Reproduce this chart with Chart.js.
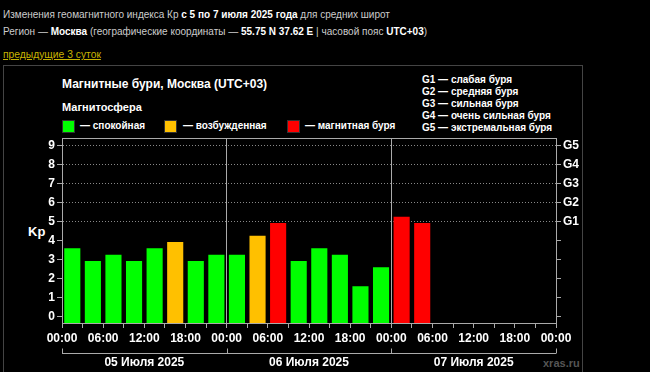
<!DOCTYPE html>
<html lang="ru">
<head>
<meta charset="utf-8">
<script src="https://cdn.jsdelivr.net/npm/chart.js@4"></script>
<style>
  body { margin: 0; background: #000; width: 650px; height: 372px; overflow: hidden; position: relative;
         font-family: "Liberation Sans", Arial, sans-serif; color: #fff; }
  .hdr { position: absolute; left: 3px; font-size: 10px; color: #ccc; white-space: nowrap; line-height: 14px; }
  .hdr b { color: #fff; }
  .link { position: absolute; left: 3px; top: 48px; font-size: 10.3px; line-height: 14px; color: #c8b400; text-decoration: underline; }
  .box { position: absolute; left: 3px; top: 65px; width: 578px; height: 330px; border: 1px solid #444; }
  .t { position: absolute; font-weight: bold; white-space: nowrap; line-height: 14px; }
  .sq { position: absolute; width: 11px; height: 11px; border: 1px solid #333; }
  #wrap { position: absolute; left: 0; top: 0; width: 650px; height: 372px; }
</style>
</head>
<body>
<div class="hdr" style="top:8px">Изменения геомагнитного индекса Кр <b>с 5 по 7 июля 2025 года</b> для средних широт</div>
<div class="hdr" style="top:25px">Регион — <b>Москва</b> (географические координаты — <b>55.75 N 37.62 E</b> | часовой пояс <b>UTC+03</b>)</div>
<div class="link">предыдущие 3 суток</div>
<div class="box"></div>

<div class="t" style="left:62px;top:77px;font-size:12px">Магнитные бури, Москва (UTC+03)</div>
<div class="t" style="left:62px;top:100px;font-size:11px">Магнитосфера</div>
<div class="sq" style="left:62px;top:120px;background:#00ff00"></div>
<div class="t" style="left:80px;top:119px;font-size:10px">— спокойная</div>
<div class="sq" style="left:164px;top:120px;background:#ffc000"></div>
<div class="t" style="left:183px;top:119px;font-size:10px">— возбужденная</div>
<div class="sq" style="left:287px;top:120px;background:#ff0000"></div>
<div class="t" style="left:305px;top:119px;font-size:10px">— магнитная буря</div>

<div class="t" style="left:422px;top:74px;font-size:10px;line-height:12.1px">
G1 — слабая буря<br>G2 — средняя буря<br>G3 — сильная буря<br>G4 — очень сильная буря<br>G5 — экстремальная буря
</div>
<div class="t" style="left:28px;top:225px;font-size:13px">Kp</div>
<div class="t" style="left:543px;top:356px;font-size:11px;color:#555">xras.ru</div>

<div id="wrap"><canvas id="kpChart"></canvas></div>

<script>
// Kp по 3-часовым интервалам, начиная с 05.07 00:00
const kp = [3.67, 3, 3.33, 3, 3.67, 4, 3, 3.33,
            3.33, 4.33, 5, 3, 3.67, 3.33, 1.67, 2.67,
            5.33, 5];
const days = ["05 Июля 2025", "06 Июля 2025", "07 Июля 2025"];
const gLevels = ["G1", "G2", "G3", "G4", "G5"];
const kpTicks = [0, 1, 2, 3, 4, 5, 6, 7, 8, 9];

const Y_MIN = -0.32, Y_MAX = 9.42;
const FRAME = "#aaa";

function kpColor(v) {
  if (v >= 5) return "#ff0000";
  if (v >= 4) return "#ffc000";
  return "#00ff00";
}

// рамка сверху и скобки под датами
const framePlugin = {
  id: "frame",
  afterDraw(chart) {
    const { ctx, chartArea: a, scales } = chart;
    ctx.save();
    ctx.strokeStyle = FRAME;
    ctx.lineWidth = 1;
    ctx.beginPath();
    ctx.moveTo(a.left, a.top + 0.5);
    ctx.lineTo(a.right, a.top + 0.5);
    // скобки
    const y = 353.5;
    ctx.moveTo(scales.x.getPixelForValue(0), y);
    ctx.lineTo(scales.x.getPixelForValue(72), y);
    for (let d = 0; d <= days.length; d++) {
      const px = Math.round(scales.x.getPixelForValue(d * 24)) + 0.5;
      ctx.moveTo(px, y);
      ctx.lineTo(px, y - 5);
    }
    ctx.stroke();
    ctx.restore();
  }
};

const ctx = document.getElementById("kpChart");
const kpChart = new Chart(ctx, {
  type: "bar",
  data: {
    datasets: [{
      data: kp.map((v, i) => ({ x: i * 3 + 1.5, y: v })),
      backgroundColor: (c) => kpColor(c.raw ? c.raw.y : 0),
      borderColor: "rgba(0,0,0,0.45)",
      borderWidth: 1,
      base: Y_MIN,
      barPercentage: 0.88,
      categoryPercentage: 1,
      xAxisID: "x",
      yAxisID: "y",
    }],
  },
  plugins: [framePlugin],
  options: {
    responsive: true,
    maintainAspectRatio: false,
    animation: false,
    layout: { padding: { top: 138, left: 0, right: 0, bottom: 0 } },
    plugins: { legend: { display: false }, tooltip: { enabled: false }, title: { display: false } },
    scales: {
      x: {
        type: "linear", position: "bottom", min: 0, max: 72, offset: false,
        afterBuildTicks: (s) => { s.ticks = []; for (let h = 0; h <= 72; h += 3) s.ticks.push({ value: h }); },
        afterFit: (s) => { s.height = 22; },
        ticks: {
          autoSkip: false, maxRotation: 0, minRotation: 0, padding: 3, color: "#fff",
          font: { family: "Liberation Sans", size: 12, weight: "bold" },
          callback: (v) => (v % 6 === 0 ? String(v % 24).padStart(2, "0") + ":00" : ""),
        },
        grid: {
          offset: false, tickLength: 5, tickColor: FRAME,
          color: (c) => (c.tick && (c.tick.value === 24 || c.tick.value === 48) ? FRAME : "rgba(0,0,0,0)"),
        },
        border: { color: FRAME, width: 1 },
      },
      xDays: {
        type: "linear", axis: "x", position: "bottom", min: 0, max: 72, offset: false,
        afterBuildTicks: (s) => { s.ticks = days.map((d, i) => ({ value: i * 24 + 12 })); },
        afterFit: (s) => { s.height = 27; },
        ticks: {
          autoSkip: false, maxRotation: 0, minRotation: 0, padding: 2, color: "#fff",
          font: { family: "Liberation Sans", size: 12, weight: "bold" },
          callback: (v, i) => days[i],
        },
        grid: { display: false, offset: false },
        border: { display: false },
      },
      y: {
        type: "linear", position: "left", min: Y_MIN, max: Y_MAX,
        afterBuildTicks: (s) => { s.ticks = kpTicks.map((v) => ({ value: v })); },
        afterFit: (s) => { s.width = 62; },
        ticks: {
          padding: 2, color: "#fff",
          font: { family: "Liberation Sans", size: 12, weight: "bold" },
          callback: (v) => String(v),
        },
        grid: {
          tickLength: 5, tickColor: FRAME,
          color: (c) => (c.tick && c.tick.value >= 5 ? "#888" : "rgba(0,0,0,0)"),
        },
        border: { color: FRAME, width: 1, dash: [1, 2] },
      },
      y2: {
        type: "linear", position: "right", min: Y_MIN, max: Y_MAX,
        afterBuildTicks: (s) => { s.ticks = kpTicks.map((v) => ({ value: v })); },
        afterFit: (s) => { s.width = 94; },
        ticks: {
          padding: 2, color: "#fff",
          font: { family: "Liberation Sans", size: 12, weight: "bold" },
          callback: (v) => (v >= 5 ? gLevels[v - 5] : ""),
        },
        grid: { drawOnChartArea: false, tickLength: 5, tickColor: FRAME },
        border: { color: FRAME, width: 1 },
      },
    },
  },
});
</script>
</body>
</html>
